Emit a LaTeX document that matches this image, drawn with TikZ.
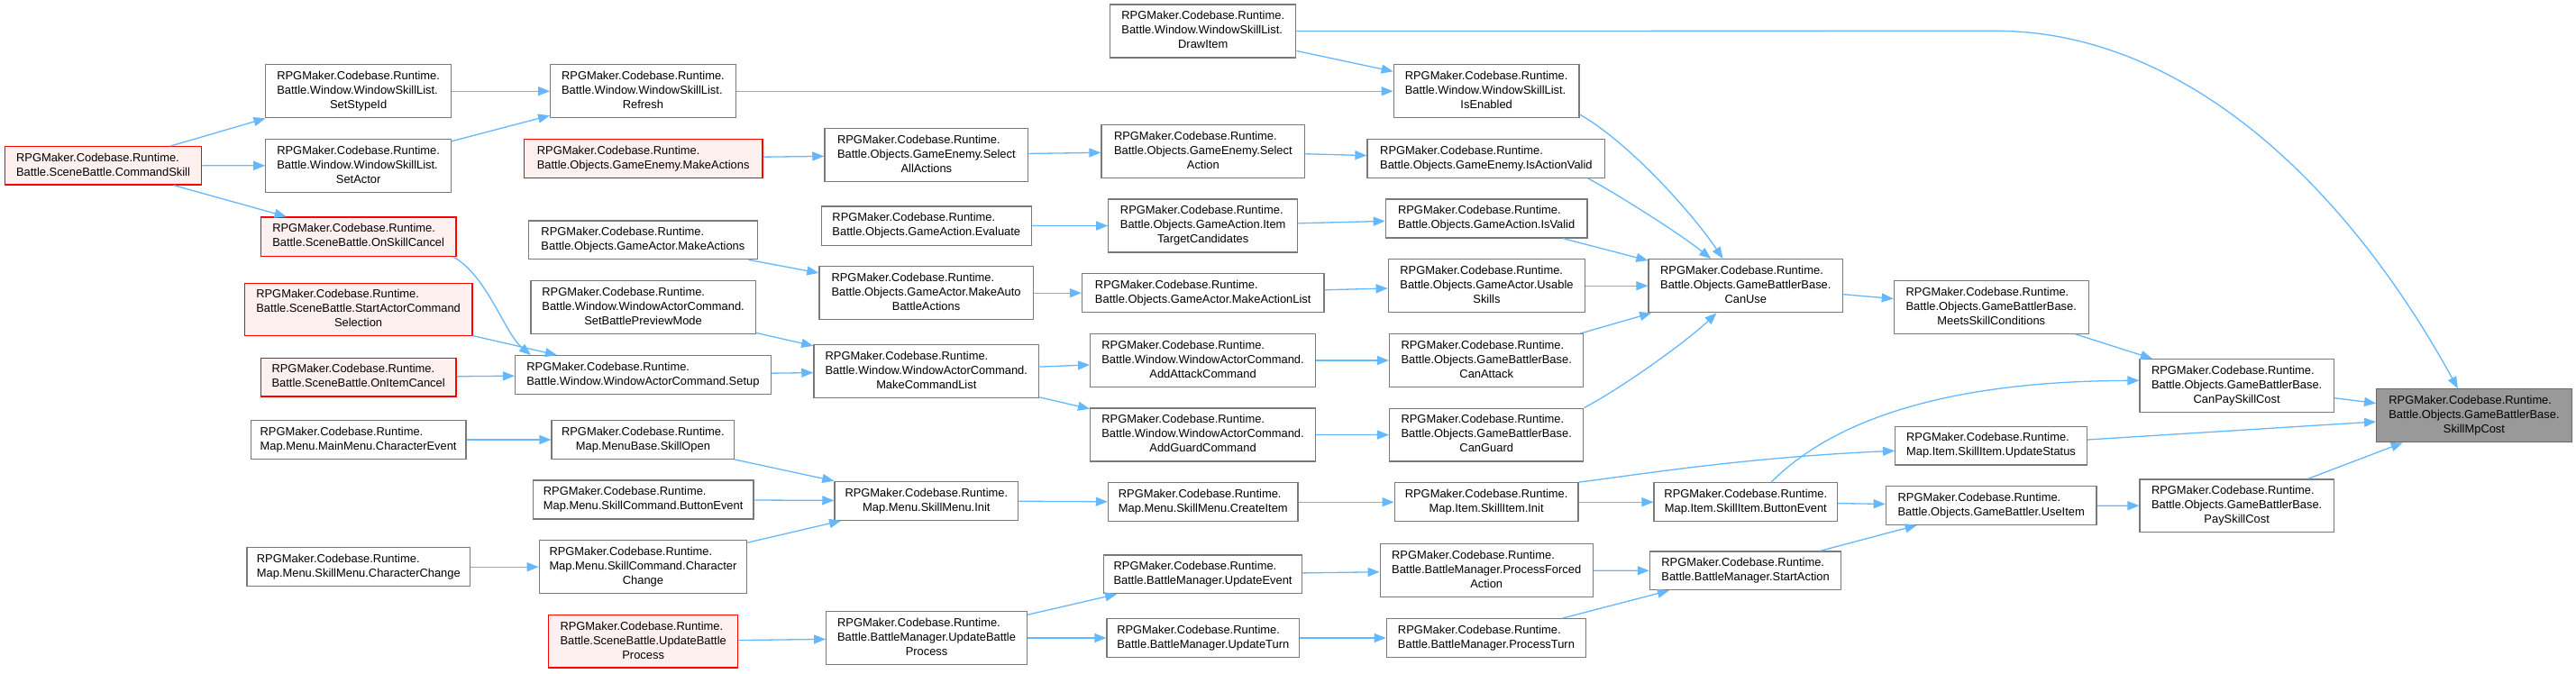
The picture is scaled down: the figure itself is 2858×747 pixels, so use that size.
\documentclass[tikz,border=0pt]{standalone}
\usepackage{fontspec}
\setmainfont{Liberation Sans}
\usetikzlibrary{arrows.meta}
\definecolor{edgec}{HTML}{63B8FF}
\definecolor{bord}{HTML}{7A7A7A}
\definecolor{redfill}{HTML}{FFF0F0}
\definecolor{rootfill}{HTML}{999999}
\newcommand\twol[2]{\begin{tabular}{@{}l@{}}#1\\\multicolumn{1}{@{}c@{}}{#2}\end{tabular}}
\newcommand\thrl[3]{\begin{tabular}{@{}l@{}}#1\\#2\\\multicolumn{1}{@{}c@{}}{#3}\end{tabular}}
\newcommand\RC{RPGMaker.Codebase.Runtime.}
\newcommand\nd[7]{\node[#2,minimum width={#5-#3},minimum height={#6-#4}] (#1) at ({(#3+#5)/2},{(#4+#6)/2}) {#7};}
\begin{document}
\begin{tikzpicture}[x=1pt,y=-1pt,
  box/.style={draw=bord, fill=white, line width=1.3pt, inner sep=0pt, font=\fontsize{12.9}{16}\selectfont},
  rbox/.style={box, draw=red, fill=redfill},
  root/.style={box, draw=bord!85!black, fill=rootfill},
  arr/.style={draw=edgec, line width=1.3pt, -{Triangle[length=13pt,width=10pt]}}]
\fill[white] (0,0) rectangle (2858,747);
\useasboundingbox (0,0) rectangle (2858,747);

\nd{cmdskill}{rbox}{5.5}{162.7}{223.6}{205}{\twol{\RC}{Battle.SceneBattle.CommandSkill}}
\nd{setstype}{box}{294.8}{71.7}{500.5}{130.7}{\thrl{\RC}{Battle.Window.WindowSkillList.}{SetStypeId}}
\nd{setactor}{box}{294.8}{154.3}{500.5}{213.3}{\thrl{\RC}{Battle.Window.WindowSkillList.}{SetActor}}
\nd{onskill}{rbox}{289.3}{241}{506}{284.3}{\twol{\RC}{Battle.SceneBattle.OnSkillCancel}}
\nd{startcmd}{rbox}{271.3}{314.3}{523.9}{372.7}{\thrl{\RC}{Battle.SceneBattle.StartActorCommand}{Selection}}
\nd{onitem}{rbox}{289.3}{397.3}{506}{440}{\twol{\RC}{Battle.SceneBattle.OnItemCancel}}
\nd{charevent}{box}{278.2}{466.7}{517}{509.3}{\twol{\RC}{Map.Menu.MainMenu.CharacterEvent}}
\nd{menuchar}{box}{274.1}{607.7}{521.6}{650.7}{\twol{\RC}{Map.Menu.SkillMenu.CharacterChange}}
\nd{refresh}{box}{610.7}{71.7}{816.2}{130.7}{\thrl{\RC}{Battle.Window.WindowSkillList.}{Refresh}}
\nd{enemymake}{rbox}{581.3}{154.3}{846}{197.3}{\twol{\RC}{Battle.Objects.GameEnemy.MakeActions}}
\nd{actormake}{box}{586.3}{245}{840.5}{287.7}{\twol{\RC}{Battle.Objects.GameActor.MakeActions}}
\nd{preview}{box}{589}{311.7}{838.2}{370.7}{\thrl{\RC}{Battle.Window.WindowActorCommand.}{SetBattlePreviewMode}}
\nd{setup}{box}{571.6}{394.7}{855.2}{437.3}{\twol{\RC}{Battle.Window.WindowActorCommand.Setup}}
\nd{skillopen}{box}{612}{466.7}{814.8}{509.3}{\twol{\RC}{Map.MenuBase.SkillOpen}}
\nd{cmdbutton}{box}{591.4}{533}{835.9}{576}{\twol{\RC}{Map.Menu.SkillCommand.ButtonEvent}}
\nd{cmdchar}{box}{598.3}{599.7}{828.6}{658.7}{\thrl{\RC}{Map.Menu.SkillCommand.Character}{Change}}
\nd{sceneupd}{rbox}{608.8}{682.7}{818.5}{741}{\thrl{\RC}{Battle.SceneBattle.UpdateBattle}{Process}}
\nd{drawitem}{box}{1231.7}{5}{1437.8}{64}{\thrl{\RC}{Battle.Window.WindowSkillList.}{DrawItem}}
\nd{selall}{box}{914.9}{142.7}{1140.8}{201.3}{\thrl{\RC}{Battle.Objects.GameEnemy.Select}{AllActions}}
\nd{evaluate}{box}{911.2}{229}{1144.4}{272.3}{\twol{\RC}{Battle.Objects.GameAction.Evaluate}}
\nd{autobattle}{box}{908.9}{295.7}{1146.3}{354.7}{\thrl{\RC}{Battle.Objects.GameActor.MakeAuto}{BattleActions}}
\nd{cmdlist}{box}{902.9}{382.7}{1152.7}{441.3}{\thrl{\RC}{Battle.Window.WindowActorCommand.}{MakeCommandList}}
\nd{menuinit}{box}{925.9}{534.3}{1129.8}{577.3}{\twol{\RC}{Map.Menu.SkillMenu.Init}}
\nd{bmupd}{box}{916.7}{678.7}{1139.4}{737.3}{\thrl{\RC}{Battle.BattleManager.UpdateBattle}{Process}}
\nd{selaction}{box}{1222}{138.3}{1447.7}{197.3}{\thrl{\RC}{Battle.Objects.GameEnemy.Select}{Action}}
\nd{itemtarget}{box}{1229.8}{221}{1439.6}{280}{\thrl{\RC}{Battle.Objects.GameAction.Item}{TargetCandidates}}
\nd{actionlist}{box}{1200.5}{303.7}{1468.9}{346.7}{\twol{\RC}{Battle.Objects.GameActor.MakeActionList}}
\nd{addattack}{box}{1209.6}{370.7}{1459.5}{429.3}{\thrl{\RC}{Battle.Window.WindowActorCommand.}{AddAttackCommand}}
\nd{addguard}{box}{1209.6}{453}{1459.5}{512}{\thrl{\RC}{Battle.Window.WindowActorCommand.}{AddGuardCommand}}
\nd{createitem}{box}{1229.4}{535.7}{1440.1}{578.7}{\twol{\RC}{Map.Menu.SkillMenu.CreateItem}}
\nd{updevent}{box}{1224.3}{616}{1444.8}{658.7}{\twol{\RC}{Battle.BattleManager.UpdateEvent}}
\nd{updturn}{box}{1228}{686.7}{1441.5}{729.3}{\twol{\RC}{Battle.BattleManager.UpdateTurn}}
\nd{isenabled}{box}{1546.3}{71.7}{1752}{130.7}{\thrl{\RC}{Battle.Window.WindowSkillList.}{IsEnabled}}
\nd{actvalid}{box}{1517}{154.7}{1780.8}{197.3}{\twol{\RC}{Battle.Objects.GameEnemy.IsActionValid}}
\nd{isvalid}{box}{1537.3}{221}{1761}{264}{\twol{\RC}{Battle.Objects.GameAction.IsValid}}
\nd{usable}{box}{1540.2}{287.7}{1758.7}{346.7}{\thrl{\RC}{Battle.Objects.GameActor.Usable}{Skills}}
\nd{canattack}{box}{1541.6}{370.7}{1756.8}{429.3}{\thrl{\RC}{Battle.Objects.GameBattlerBase.}{CanAttack}}
\nd{canguard}{box}{1541.6}{453.3}{1756.8}{512}{\thrl{\RC}{Battle.Objects.GameBattlerBase.}{CanGuard}}
\nd{siinit}{box}{1547.2}{535.7}{1751.1}{578.7}{\twol{\RC}{Map.Item.SkillItem.Init}}
\nd{forced}{box}{1531.2}{603.7}{1767.2}{662.7}{\thrl{\RC}{Battle.BattleManager.ProcessForced}{Action}}
\nd{procturn}{box}{1538.3}{686.7}{1759.6}{729.3}{\twol{\RC}{Battle.BattleManager.ProcessTurn}}
\nd{canuse}{box}{1829}{287.7}{2044.6}{346.7}{\thrl{\RC}{Battle.Objects.GameBattlerBase.}{CanUse}}
\nd{sibutton}{box}{1835.1}{535.7}{2038.5}{578.7}{\twol{\RC}{Map.Item.SkillItem.ButtonEvent}}
\nd{startaction}{box}{1830.4}{612}{2042.8}{654.7}{\twol{\RC}{Battle.BattleManager.StartAction}}
\nd{meets}{box}{2101.3}{311.7}{2317.2}{370.3}{\thrl{\RC}{Battle.Objects.GameBattlerBase.}{MeetsSkillConditions}}
\nd{updstatus}{box}{2102.7}{473.3}{2315.3}{516}{\twol{\RC}{Map.Item.SkillItem.UpdateStatus}}
\nd{useitem}{box}{2092.3}{539.7}{2326.1}{582.3}{\twol{\RC}{Battle.Objects.GameBattler.UseItem}}
\nd{canpay}{box}{2374.1}{398.7}{2589.2}{457.3}{\thrl{\RC}{Battle.Objects.GameBattlerBase.}{CanPaySkillCost}}
\nd{pay}{box}{2374.1}{532}{2589.2}{590.7}{\thrl{\RC}{Battle.Objects.GameBattlerBase.}{PaySkillCost}}
\nd{mpcost}{root}{2636.7}{431.7}{2853.2}{490.7}{\thrl{\RC}{Battle.Objects.GameBattlerBase.}{SkillMpCost}}

% straight connectors
\foreach \a/\b in {cmdskill/setstype, cmdskill/setactor, cmdskill/onskill, setstype/refresh, setactor/refresh,
  startcmd/setup, onitem/setup, refresh/isenabled, drawitem/isenabled, enemymake/selall, selall/selaction,
  selaction/actvalid, actormake/autobattle, preview/cmdlist, setup/cmdlist, evaluate/itemtarget,
  itemtarget/isvalid, autobattle/actionlist, actionlist/usable, cmdlist/addattack, cmdlist/addguard,
  addattack/canattack, addguard/canguard, isvalid/canuse, usable/canuse, canattack/canuse, canuse/meets,
  meets/canpay, canpay/mpcost, updstatus/mpcost, pay/mpcost, useitem/pay, siinit/sibutton, sibutton/useitem,
  startaction/useitem, charevent/skillopen, skillopen/menuinit, cmdbutton/menuinit, cmdchar/menuinit,
  menuchar/cmdchar, menuinit/createitem, createitem/siinit, sceneupd/bmupd, bmupd/updevent, bmupd/updturn,
  updevent/forced, updturn/procturn, forced/startaction, procturn/startaction}
  {\draw[arr] (\a) -- (\b);}

% curved connectors
\draw[arr] (onskill.-12.7) .. controls (540,305) and (560,370) .. (setup.170.3);
\draw[arr] (isenabled.-14.5) .. controls (1810,160) and (1880,240) .. (canuse.130);
\draw[arr] (actvalid.-11.7) .. controls (1790,213) and (1862,258) .. (canuse.142);
\draw[arr] (canguard.north east) .. controls (1800,430) and (1870,380) .. (canuse.223.4);
\draw[arr] (siinit.north east) .. controls (1810,528) and (1930,508) .. (updstatus.183.4);
\draw[arr] (sibutton.38.3) .. controls (2030,470) and (2150,423) .. (canpay.177.5);
\draw[arr] (drawitem.east) -- (2214,34.3) .. controls (2420,34.3) and (2600,200) .. (mpcost.121.4);
\end{tikzpicture}
\end{document}
